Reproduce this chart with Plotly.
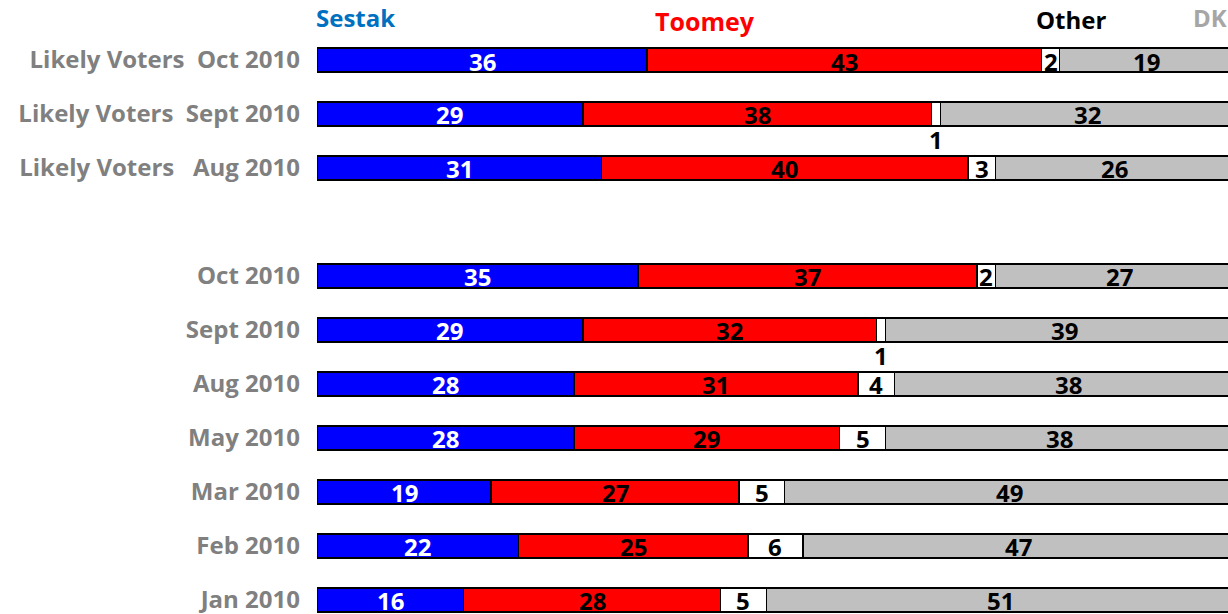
import plotly.graph_objects as go

row_labels = [
    "Likely Voters\u00a0\u00a0Oct 2010",
    "Likely Voters\u00a0\u00a0Sept 2010",
    "Likely Voters\u00a0\u00a0\u00a0Aug 2010",
    "Oct 2010",
    "Sept 2010",
    "Aug 2010",
    "May 2010",
    "Mar 2010",
    "Feb 2010",
    "Jan 2010",
]
row_slots = [0, 1, 2, 4, 5, 6, 7, 8, 9, 10]

sestak = [36, 29, 31, 35, 29, 28, 28, 19, 22, 16]
toomey = [43, 38, 40, 37, 32, 31, 29, 27, 25, 28]
other = [2, 1, 3, 2, 1, 4, 5, 5, 6, 5]
dk = [19, 32, 26, 27, 39, 38, 38, 49, 47, 51]

series = [
    ("Sestak", sestak, "#0000FF", "white"),
    ("Toomey", toomey, "#FF0000", "black"),
    ("Other", other, "#FFFFFF", "black"),
    ("DK", dk, "#C0C0C0", "black"),
]

FONT = "Open Sans"

fig = go.Figure()
for name, vals, color, _ in series:
    fig.add_trace(go.Bar(
        y=row_slots, x=vals, name=name, orientation="h",
        marker=dict(color=color, line=dict(color="black", width=1.5)),
        width=0.44, showlegend=False, hoverinfo="skip",
    ))

annotations = []
cum = [0] * len(row_slots)
for name, vals, color, tcolor in series:
    for i, v in enumerate(vals):
        mid = cum[i] + v / 2
        if v <= 1:
            annotations.append(dict(x=mid, y=row_slots[i], xref="x", yref="y", text=str(v),
                                    showarrow=False, yshift=-26,
                                    font=dict(family=FONT, size=24, color="black", weight="bold")))
        else:
            annotations.append(dict(x=mid, y=row_slots[i], xref="x", yref="y", text=str(v),
                                    showarrow=False, yshift=-1,
                                    font=dict(family=FONT, size=24, color=tcolor, weight="bold")))
        cum[i] += v

headers = [
    ("Sestak", 0.042, 1.027, "#0070C0", 24),
    ("Toomey", 0.426, 1.020, "#FF0000", 25),
    ("Other", 0.828, 1.023, "#000000", 24),
    ("DK", 0.980, 1.027, "#A6A6A6", 24),
]
for t, x, y, c, s in headers:
    annotations.append(dict(x=x, y=y, xref="paper", yref="paper", text=t, showarrow=False,
                            xanchor="center", yanchor="middle",
                            font=dict(family=FONT, size=s, color=c, weight="bold")))

fig.update_layout(
    width=1228, height=614,
    margin=dict(l=317, r=0, t=33, b=0),
    plot_bgcolor="white", paper_bgcolor="white",
    barmode="stack",
    annotations=annotations,
    xaxis=dict(range=[0, 99.35], showgrid=False, zeroline=False, showticklabels=False,
               showline=False, fixedrange=True),
    yaxis=dict(range=[10.26, -0.5], tickvals=row_slots, ticktext=row_labels,
               showgrid=False, zeroline=False, showline=False, ticks="",
               ticklabelstandoff=16, ticklabeloverflow="allow",
               tickfont=dict(family=FONT, size=24, color="#808080", weight="bold")),
)

fig.write_html("out.html", config={"displayModeBar": False},
               post_script="document.body.style.margin='0';document.body.style.overflow='hidden';")
